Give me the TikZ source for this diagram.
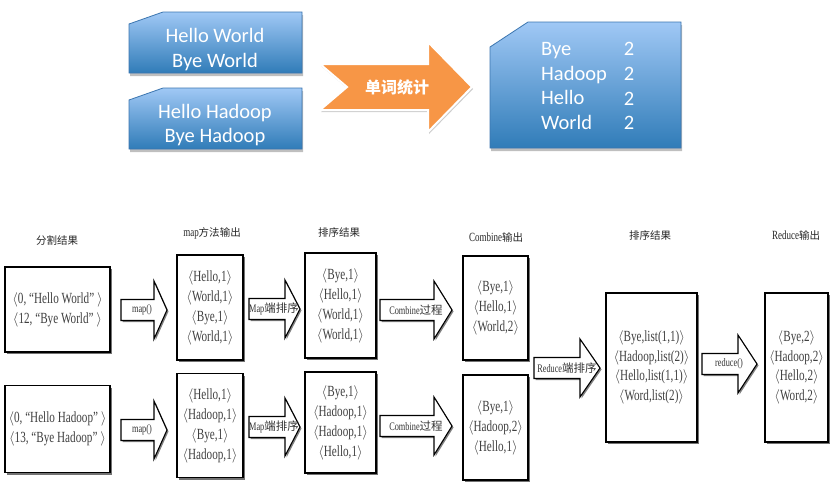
\documentclass[tikz,border=0pt]{standalone}
\usepackage{fontspec}
\usetikzlibrary{shadows}
\newfontfamily\carl{Carlito}
\newfontfamily\cjk{Noto Sans CJK SC}
\newfontfamily\lat[FakeStretch=0.72]{Liberation Serif}
\newcommand\kv[1]{$\langle$#1$\rangle$}
\definecolor{boxtop}{RGB}{160,200,245}
\definecolor{boxbot}{RGB}{48,124,184}
\definecolor{boxline}{RGB}{60,118,176}
\definecolor{orangearrow}{RGB}{247,150,70}
\tikzset{
  bluebox/.style={draw=boxline, line width=0.8pt, top color=boxtop, bottom color=boxbot,
    drop shadow={shadow xshift=1pt, shadow yshift=-3pt, opacity=0.25, fill=black}},
  wtext/.style={text=white, font=\carl\fontsize{20.5}{24.7}\selectfont, align=center, inner sep=0pt},
  databox/.style={draw, line width=1.3pt, fill=white, align=center, inner sep=0pt,
    text=black!75, font=\lat\fontsize{15.5}{20}\selectfont,
    drop shadow={shadow xshift=2pt, shadow yshift=-2pt, fill=black!55, opacity=1}},
  title/.style={font=\fontsize{10.5}{13}\selectfont, text=black!85, inner sep=0pt},
  barr/.style={draw, line width=1.1pt, fill=white, line join=miter,
    drop shadow={shadow xshift=1.5pt, shadow yshift=-1.5pt, fill=black!50, opacity=1}},
  alabel/.style={font=\fontsize{11.5}{13}\selectfont, text=black!80, inner sep=0pt},
}
% #1 x start, #2 x head base, #3 x tip, #4 y centre, #5 name, #6 label x, #7 label
\newcommand\barrow[7]{%
  \path[barr] (#1,#4-10.5) -- (#2,#4-10.5) -- (#2,#4-29) -- (#3,#4) -- (#2,#4+29)
     -- (#2,#4+10.5) -- (#1,#4+10.5) -- cycle;
  \node[alabel] (#5) at (#6,#4) {#7};}
\begin{document}
\begin{tikzpicture}[x=1pt,y=-1pt]
\useasboundingbox (0,0) rectangle (832,488);
\fill[white] (0,0) rectangle (832,488);

% ---------- top part ----------
\path[bluebox] (129,24) -- (163,12) -- (302,12) -- (302,73) -- (129,73) -- cycle;
\node[wtext] (t1) at (215,49.5) {Hello World\\Bye World};
\path[bluebox] (129,100) -- (163,88) -- (302,88) -- (302,149) -- (129,149) -- cycle;
\node[wtext] (t2) at (215,125) {Hello Hadoop\\Bye Hadoop};

\path[fill=orangearrow, draw=white, line width=2pt, line join=miter,
  drop shadow={shadow xshift=1pt, shadow yshift=-2pt, opacity=0.2, fill=black}]
  (320,64) -- (428,64) -- (428,42) -- (472,87) -- (428,132) -- (428,110) -- (320,110) -- (347,87) -- cycle;
\node[text=white, font=\cjk\bfseries\fontsize{16}{18}\selectfont, inner sep=0pt] (cnt) at (397,87) {单词统计};

\path[bluebox] (490,47) -- (528,22) -- (681,22) -- (681,148) -- (490,148) -- cycle;
\node[wtext, align=left, anchor=west] (words) at (541,86) {Bye\\Hadoop\\Hello\\World};
\node[wtext] (counts) at (629,86) {2\\2\\2\\2};

% ---------- titles ----------
\node[title] (h1) at (57,240) {\cjk 分割结果};
\node[title] (h2) at (212,233) {{\lat\fontsize{12.5}{13}\selectfont map}{\cjk 方法输出}};
\node[title] (h3) at (339,232) {\cjk 排序结果};
\node[title] (h4) at (496,237) {{\lat\fontsize{12.5}{13}\selectfont Combine}{\cjk 输出}};
\node[title] (h5) at (650,235) {\cjk 排序结果};
\node[title] (h6) at (796,235) {{\lat\fontsize{12.5}{13}\selectfont Reduce}{\cjk 输出}};

% ---------- boxes ----------
\node[databox, minimum width=105, minimum height=85] (a1) at (57.5,309.5)
  {\kv{0,~“Hello World”~}\\\kv{12,~“Bye World”~}};
\node[databox, minimum width=105, minimum height=87] (a2) at (57.5,429)
  {\kv{0,~“Hello Hadoop”~}\\\kv{13,~“Bye Hadoop”~}};

\node[databox, minimum width=66, minimum height=105] (b1) at (210,307.5)
  {\kv{Hello,1}\\\kv{World,1}\\\kv{Bye,1}\\\kv{World,1}};
\node[databox, minimum width=66, minimum height=104] (b2) at (210,425.5)
  {\kv{Hello,1}\\\kv{Hadoop,1}\\\kv{Bye,1}\\\kv{Hadoop,1}};

\node[databox, minimum width=71, minimum height=105] (c1) at (340.5,305.5)
  {\kv{Bye,1}\\\kv{Hello,1}\\\kv{World,1}\\\kv{World,1}};
\node[databox, minimum width=71, minimum height=101] (c2) at (340.5,422.5)
  {\kv{Bye,1}\\\kv{Hadoop,1}\\\kv{Hadoop,1}\\\kv{Hello,1}};

\node[databox, minimum width=65, minimum height=104] (d1) at (495.5,308)
  {\kv{Bye,1}\\\kv{Hello,1}\\\kv{World,2}};
\node[databox, minimum width=65, minimum height=105] (d2) at (495.5,427.5)
  {\kv{Bye,1}\\\kv{Hadoop,2}\\\kv{Hello,1}};

\node[databox, minimum width=91, minimum height=149, font=\lat\fontsize{15.5}{19.5}\selectfont] (e) at (651.5,367.5)
  {\kv{Bye,list(1,1)}\\\kv{Hadoop,list(2)}\\\kv{Hello,list(1,1)}\\\kv{Word,list(2)}};
\node[databox, minimum width=63, minimum height=149, font=\lat\fontsize{15.5}{19.5}\selectfont] (f) at (796.5,367.5)
  {\kv{Bye,2}\\\kv{Hadoop,2}\\\kv{Hello,2}\\\kv{Word,2}};

% ---------- block arrows ----------
\barrow{121}{154}{167}{310}{m1}{142}{\lat map()}
\barrow{249}{285}{300}{309}{s1}{274}{{\lat Map}{\cjk 端排序}}
\barrow{380}{434}{452}{310}{k1}{416}{{\lat Combine}{\cjk 过程}}
\barrow{121}{154}{167}{430}{m2}{142}{\lat map()}
\barrow{249}{285}{300}{427}{s2}{274}{{\lat Map}{\cjk 端排序}}
\barrow{380}{434}{452}{426}{k2}{416}{{\lat Combine}{\cjk 过程}}
\barrow{534}{580}{600}{368}{r1}{567}{{\lat Reduce}{\cjk 端排序}}
\barrow{702}{738}{757}{364}{r2}{729}{\lat reduce()}
\end{tikzpicture}
\end{document}
